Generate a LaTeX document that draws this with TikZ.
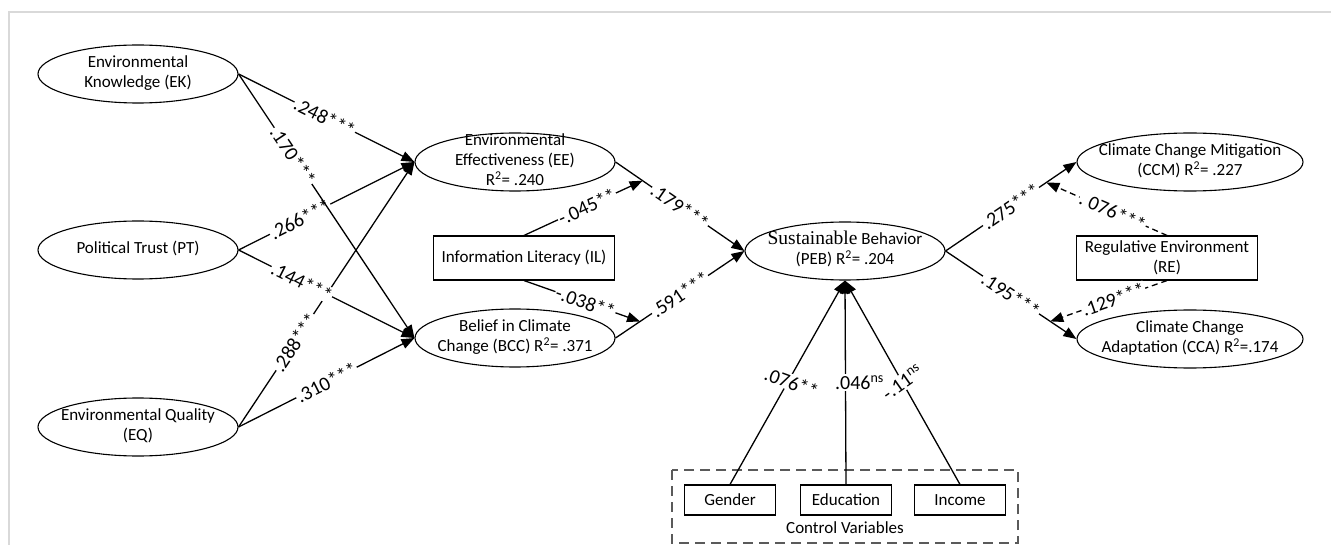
\documentclass[tikz,border=0pt]{standalone}
\usepackage{fontspec}
\setmainfont{Carlito}
\newfontfamily\serifpart{Liberation Serif}
\usepackage{xcolor}
\usepackage{tikz}
\usetikzlibrary{positioning, arrows.meta, shapes.geometric}
\definecolor{fGray}{HTML}{D9D9D9}
\definecolor{cvDash}{HTML}{5A5A5A}
\newcommand{\ovaltext}[1]{\makebox[0pt]{\raisebox{-4pt}[0pt][0pt]{\begin{tabular}[c]{@{}c@{}}#1\end{tabular}}}}

\begin{document}
\begin{tikzpicture}[x=1pt, y=-1pt, >={Triangle[length=13pt,width=10pt]},
          lat/.style={draw, ellipse, line width=1.1pt, minimum width=200pt, minimum height=58pt,
            inner sep=0pt, font=\fontsize{17}{20}\selectfont},
          obs/.style={draw, rectangle, line width=1.1pt, minimum width=181pt, minimum height=44pt,
            inner sep=2pt, align=center, font=\fontsize{17}{20}\selectfont},
          ctrl/.style={draw, rectangle, line width=1.1pt, minimum width=91pt, minimum height=30pt,
            inner sep=2pt, font=\fontsize{17}{20}\selectfont},
          link/.style={line width=1.3pt},
          wt/.style={fill=white, inner sep=1pt, font=\fontsize{20}{20}\selectfont},
          coef/.style={wt, sloped}]
        \useasboundingbox (0,0) rectangle (1331,545);
        \draw[fGray, line width=2pt] (9,545) -- (9,12) -- (1331,12);
        \node[lat] (ek) at (138,74) {\ovaltext{Environmental\\Knowledge (EK)}};
        \node[lat] (pt) at (138,250) {\ovaltext{Political Trust (PT)}};
        \node[lat] (eq) at (138,427) {\ovaltext{Environmental Quality\\(EQ)}};
        \node[lat] (ee) at (515,162) {\ovaltext{Environmental\\Effectiveness (EE)\\R\textsuperscript{2}= .240}};
        \node[lat] (bcc) at (515,338) {\ovaltext{Belief in Climate\\Change (BCC) R\textsuperscript{2}= .371}};
        \node[obs] (il) at (524,258) {Information Literacy (IL)};
        \node[lat] (peb) at (845,251) {\ovaltext{{\serifpart\fontsize{19.5}{20}\selectfont Sustainable} Behavior\\(PEB) R\textsuperscript{2}= .204}};
        \node[lat, minimum width=226pt] (ccm) at (1190,162) {\ovaltext{Climate Change Mitigation\\(CCM) R\textsuperscript{2}= .227}};
        \node[obs] (re) at (1167,258) {Regulative Environment\\(RE)};
        \node[lat, minimum width=226pt] (cca) at (1190,339) {\ovaltext{Climate Change\\Adaptation (CCA) R\textsuperscript{2}=.174}};
        \node[ctrl] (gen) at (730,500) {Gender};
        \node[ctrl] (edu) at (846,500) {Education};
        \node[ctrl] (inc) at (960,500) {Income};
        \node[font=\fontsize{17}{20}\selectfont] (cv) at (845,528) {Control Variables};
        \draw[cvDash, line width=1.2pt, dash pattern=on 10pt off 6pt] (672,470) rectangle (1018,543);
        \draw[->, link] (eq.east) -- node[coef, pos=0.32] {.288***} (ee.west);
        \draw[->, link] (eq.east) -- node[coef, pos=0.5] {.310***} (bcc.west);
        \draw[->, link] (pt.east) -- node[coef, pos=0.35] {.266***} (ee.west);
        \draw[->, link] (pt.east) -- node[coef, pos=0.36] {.144***} (bcc.west);
        \draw[->, link] (ek.east) -- node[coef, pos=0.49] {.248***} (ee.west);
        \draw[->, link] (ek.east) -- node[coef, pos=0.31] {.170***} (bcc.west);
        \draw[->, link] (ee.east) -- node[coef] {.179***} coordinate[pos=0.21] (mEE) (peb.west);
        \draw[->, link] (bcc.east) -- node[coef] {.591***} coordinate[pos=0.19] (mBCC) (peb.west);
        \draw[->, link] (il.north) -- node[coef, pos=0.53] {-.045**} (mEE);
        \draw[->, link] (il.south) -- node[coef, pos=0.53] {-.038**} (mBCC);
        \draw[->, link] (peb.east) -- node[coef] {.275***} coordinate[pos=0.77] (mCCM) (ccm.west);
        \draw[->, link] (peb.east) -- node[coef] {.195***} coordinate[pos=0.8] (mCCA) (cca.west);
        \draw[->, link, dash pattern=on 6pt off 4pt] (re.north) -- node[coef, pos=0.45] {.\ 076***} (mCCM);
        \draw[->, link, dash pattern=on 6pt off 4pt] (re.south) -- node[coef, pos=0.46] {.129***} (mCCA);
        \draw[->, link] (gen.north) -- node[wt, pos=0.5, xshift=4pt, rotate=-20] {.076**} (peb.south);
        \draw[->, link] (edu.north) -- node[wt, pos=0.5, xshift=14pt] {.046\textsuperscript{ns}} (peb.south);
        \draw[->, link] (inc.north) -- node[wt, pos=0.5, rotate=35] {-.11\textsuperscript{ns}} (peb.south);
      \end{tikzpicture}
\end{document}
